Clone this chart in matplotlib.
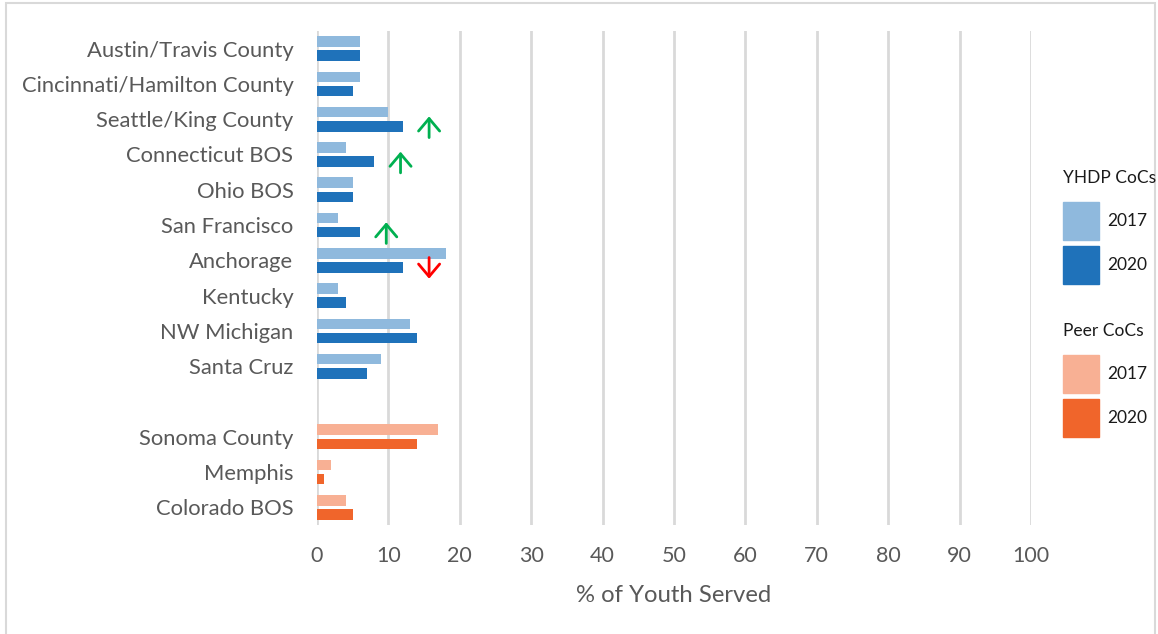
import matplotlib
matplotlib.use("Agg")
import matplotlib.pyplot as plt
from matplotlib.patches import Rectangle

# YHDP communities, top to bottom
yhdp_names = ["Austin/Travis County", "Cincinnati/Hamilton County", "Seattle/King County",
              "Connecticut BOS", "Ohio BOS", "San Francisco", "Anchorage", "Kentucky",
              "NW Michigan", "Santa Cruz"]
yhdp_2017 = [6, 6, 10, 4, 5, 3, 18, 3, 13, 9]
yhdp_2020 = [6, 5, 12, 8, 5, 6, 12, 4, 14, 7]

# peer communities
peer_names = ["Sonoma County", "Memphis", "Colorado BOS"]
peer_2017 = [17, 2, 4]
peer_2020 = [14, 1, 5]

# change markers
arrow_rows = ["Seattle/King County", "Connecticut BOS", "San Francisco", "Anchorage"]
arrow_x = [15.7, 11.7, 9.7, 15.7]
arrow_up = [True, True, True, False]

x_ticks = list(range(0, 101, 10))

c_blue_l = "#8FB9DD"
c_blue_d = "#1F72BA"
c_org_l = "#F8B094"
c_org_d = "#F0652B"
grey_txt = "#595959"
grid_c = "#D9D9D9"

plt.rcParams['font.family'] = ['Lato', 'DejaVu Sans']

fig = plt.figure(figsize=(11.58, 6.34), dpi=100)
ax = fig.add_axes([317 / 1158, 1 - 525 / 634, 714 / 1158, 494 / 634])

# one empty slot between the two groups
labels = yhdp_names + [""] + peer_names
y_yhdp = list(range(len(yhdp_names)))
y_peer = [len(yhdp_names) + 1 + i for i in range(len(peer_names))]

h = 0.3
ax.barh([y - 0.2 for y in y_yhdp], yhdp_2017, height=h, color=c_blue_l, zorder=3)
ax.barh([y + 0.2 for y in y_yhdp], yhdp_2020, height=h, color=c_blue_d, zorder=3)
ax.barh([y - 0.2 for y in y_peer], peer_2017, height=h, color=c_org_l, zorder=3)
ax.barh([y + 0.2 for y in y_peer], peer_2020, height=h, color=c_org_d, zorder=3)

for name, xv, up in zip(arrow_rows, arrow_x, arrow_up):
    yr = yhdp_names.index(name)
    col = "#00B050" if up else "#FF0000"
    top, bot = yr - 0.08, yr + 0.52
    start, end = (bot, top) if up else (top, bot)
    ax.annotate("", xy=(xv, end), xytext=(xv, start),
                arrowprops=dict(arrowstyle="->, head_length=0.45, head_width=0.38",
                                color=col, lw=2.0, mutation_scale=20, shrinkA=0, shrinkB=0))

ax.set_xlim(0, 100)
ax.set_ylim(len(labels) - 0.5, -0.5)
ax.set_yticks(range(len(labels)))
ax.set_yticklabels(labels, fontsize=15.8)
ax.set_xticks(x_ticks)
ax.tick_params(axis="both", length=0, labelsize=15.5, colors=grey_txt)
ax.tick_params(axis="y", labelsize=15.8, pad=17)
ax.tick_params(axis="x", pad=15)
ax.grid(axis="x", color=grid_c, lw=2, zorder=0)
for s in ax.spines.values():
    s.set_visible(False)
ax.set_xlabel("% of Youth Served", fontsize=17.2, color=grey_txt, labelpad=14)

# legend drawn by hand
def fx(px):
    return px / 1158

def fy(py):
    return 1 - py / 634

legend_groups = [("YHDP CoCs", [c_blue_l, c_blue_d], 178),
                 ("Peer CoCs", [c_org_l, c_org_d], 331)]
legend_years = ["2017", "2020"]
for title, cols, ty in legend_groups:
    fig.text(fx(1063), fy(ty), title, fontsize=12.5, color="#1a1a1a", va="center", ha="left")
    for i, (c, yr) in enumerate(zip(cols, legend_years)):
        top = ty + 24 + i * 44
        fig.add_artist(Rectangle((fx(1063), fy(top + 38)), 36 / 1158, 38 / 634,
                                 transform=fig.transFigure, color=c))
        fig.text(fx(1107), fy(top + 19), yr, fontsize=12.5, color="#1a1a1a",
                 va="center", ha="left")

# chart frame
fig.add_artist(Rectangle((fx(6), -0.05), 1149 / 1158, 1.05 - 3 / 634,
                         transform=fig.transFigure, fill=False, ec=grid_c, lw=1.5))

fig.savefig("out.png", dpi=100)
